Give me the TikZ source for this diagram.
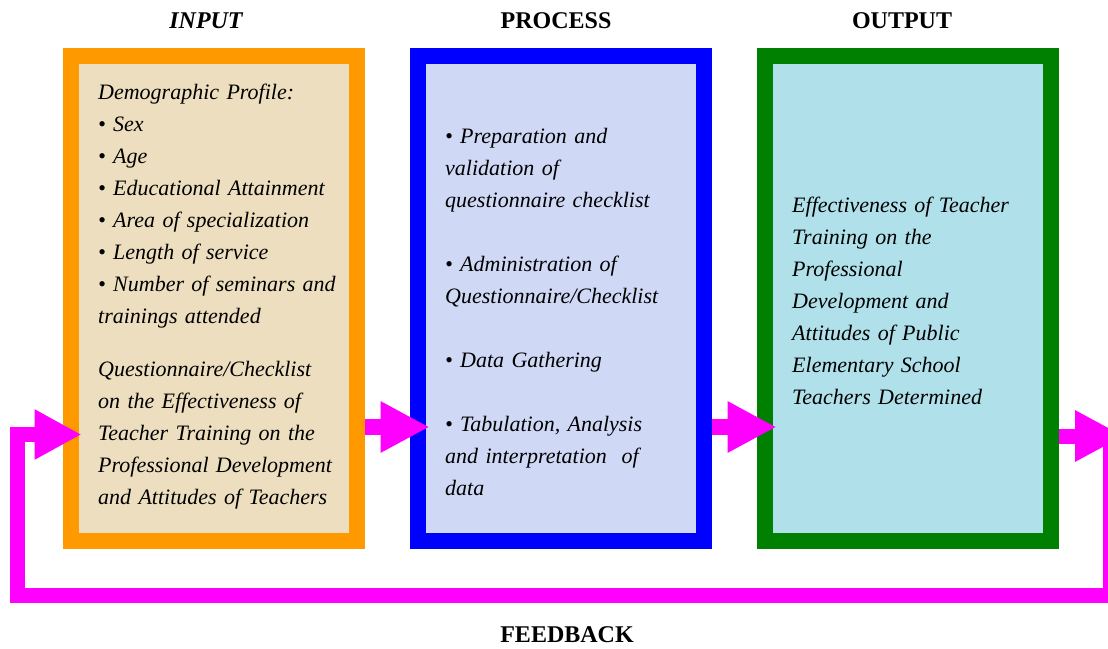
\documentclass[tikz,border=0pt]{standalone}
\usepackage{fontspec}
\setmainfont{Liberation Serif}
\usetikzlibrary{arrows.meta,positioning}
\definecolor{inorange}{RGB}{255,153,0}
\definecolor{outgreen}{RGB}{0,128,0}
\definecolor{flowpink}{RGB}{255,0,255}
\definecolor{parch}{RGB}{236,222,190}
\definecolor{pastel}{RGB}{207,217,245}
\definecolor{water}{RGB}{176,224,234}
\begin{document}
\begin{tikzpicture}[x=1pt,y=-1pt,
    box/.style={draw, line width=16pt, minimum width=286pt, minimum height=485pt, inner sep=0pt},
    flow/.style={draw=flowpink, line width=16pt, -{Triangle[length=49pt,width=48pt]}},
    body/.style={anchor=base west, align=left, text width=262pt, inner sep=0pt, font=\fontsize{22}{32}\selectfont\itshape},
    head/.style={anchor=base, inner sep=0pt, font=\fontsize{24}{28}\selectfont\bfseries}]
  \useasboundingbox (0,0) rectangle (1108,648);
  \clip (0,0) rectangle (1108,648);
  % the three boxes
  \node[box, draw=inorange, fill=parch] (input) at (213.5,298.5) {};
  \node[box, draw=blue, fill=pastel] (process) at (560.5,298.5) {};
  \node[box, draw=outgreen, fill=water] (output) at (907.5,298.5) {};
  % headings
  \node[head] (inlabel) at (206,28) {\itshape INPUT};
  \node[head] (proclabel) at (556,28) {PROCESS};
  \node[head] (outlabel) at (902,28) {OUTPUT};
  \node[head] (fblabel) at (567,642) {FEEDBACK};
  % box texts
  \node[body] (intext) at (98,99) {Demographic Profile:\\
    • Sex\\ • Age\\ • Educational Attainment\\ • Area of specialization\\
    • Length of service\\ • Number of seminars and\\ trainings attended\\[21pt]
    Questionnaire/Checklist\\ on the Effectiveness of\\ Teacher Training on the\\
    Professional Development\\ and Attitudes of Teachers};
  \node[body] (proctext) at (445,143) {• Preparation and\\ validation of\\
    questionnaire checklist\\[32pt] • Administration of\\ Questionnaire/Checklist\\[32pt]
    • Data Gathering\\[32pt] • Tabulation, Analysis\\ and interpretation~ of\\ data};
  \node[body] (outtext) at (792,212) {Effectiveness of Teacher\\ Training on the\\
    Professional\\ Development and\\ Attitudes of Public\\ Elementary School\\
    Teachers Determined};
  % arrows
  \coordinate (outend) at (1124,436);
  \coordinate (fbtop) at (1110,440);
  \coordinate (fbright) at (1110,595.5);
  \coordinate (fbleft) at (17,595.5);
  \draw[flow] ([yshift=-128.5pt]input.east) -- ([xshift=20pt,yshift=-128.5pt]process.west);
  \draw[flow] ([yshift=-128.5pt]process.east) -- ([xshift=20pt,yshift=-128.5pt]output.west);
  \draw[flow, line width=15pt] ([yshift=-137.5pt]output.east) -- (outend);
  \draw[flow, line width=15pt, -{Triangle[length=47pt,width=47pt]}] (fbtop) -- (fbright) -- (fbleft)
    |- ([xshift=19pt,yshift=-136pt]input.west);
\end{tikzpicture}
\end{document}
